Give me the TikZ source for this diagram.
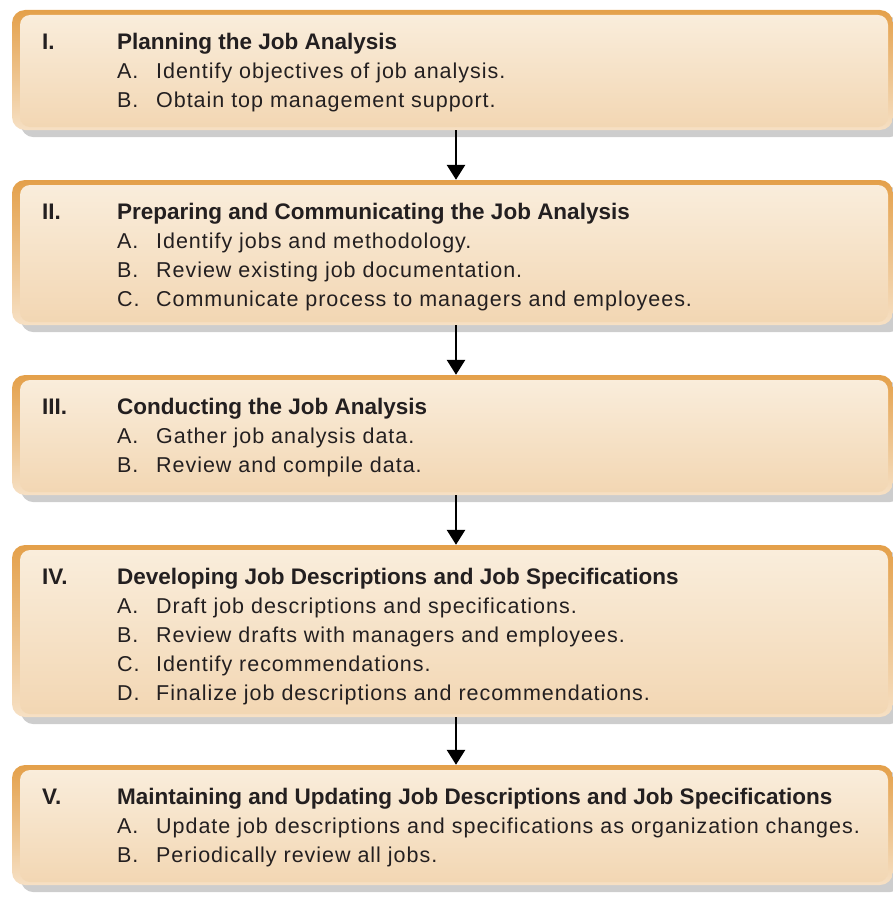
\documentclass[tikz,border=0pt]{standalone}
\usepackage{fontspec}
\setmainfont{Liberation Sans}
\newfontfamily\itemfont{Liberation Sans}[LetterSpace=4.5]
\usepackage{tikz}
\usetikzlibrary{arrows.meta,positioning,calc,backgrounds}
\definecolor{jaorange}{HTML}{E4A04A}
\definecolor{jalight}{HTML}{F6E0C4}
\definecolor{jatop}{HTML}{FAEEDD}
\definecolor{jabot}{HTML}{F2D6B2}
\definecolor{jashade}{HTML}{CDCDCD}
\definecolor{jaink}{HTML}{231F20}
\tikzset{
  stage/.style={rounded corners=13pt, minimum width=881pt, inner sep=0pt,
    top color=jaorange, bottom color=jalight,
    path picture={\shade[rounded corners=10pt, top color=jatop, bottom color=jabot]
      ([shift={(8pt,-5pt)}]path picture bounding box.north west) rectangle
      ([shift={(-5pt,3pt)}]path picture bounding box.south east);}},
  shadowbox/.style={fill=jashade, rounded corners=13pt},
  num/.style={anchor=base west, inner sep=0pt, text=jaink, font=\fontsize{22.5}{27}\selectfont\bfseries},
  head/.style={num},
  ltr/.style={anchor=base west, inner sep=0pt, text=jaink, font=\fontsize{21.5}{25}\selectfont\itemfont},
  itm/.style={ltr},
  arr/.style={-{Triangle[length=15pt,width=18pt]}, line width=2.8pt, color=black},
}

\begin{document}
\begin{tikzpicture}[x=1pt,y=-1pt]
  \useasboundingbox (0,0) rectangle (893,907);
  \foreach \n/\ya/\yb/\num/\ti in {
    1/10/130/I./{Planning the Job Analysis},
    2/180/325/II./{Preparing and Communicating the Job Analysis},
    3/375/495/III./{Conducting the Job Analysis},
    4/545/717/IV./{Developing Job Descriptions and Job Specifications},
    5/765/885/V./{Maintaining and Updating Job Descriptions and Job Specifications}}
  {
    \node[stage, minimum height=(\yb-\ya)*1pt] (b\n) at (452.5,{(\ya+\yb)/2}) {};
    \node[num] (n\n) at (42,\ya+39) {\num};
    \node[head] (h\n) at (117,\ya+39) {\ti};
  }
  \foreach \n/\k/\l/\txt in {
    1/1/A./{Identify objectives of job analysis.},
    1/2/B./{Obtain top management support.},
    2/1/A./{Identify jobs and methodology.},
    2/2/B./{Review existing job documentation.},
    2/3/C./{Communicate process to managers and employees.},
    3/1/A./{Gather job analysis data.},
    3/2/B./{Review and compile data.},
    4/1/A./{Draft job descriptions and specifications.},
    4/2/B./{Review drafts with managers and employees.},
    4/3/C./{Identify recommendations.},
    4/4/D./{Finalize job descriptions and recommendations.},
    5/1/A./{Update job descriptions and specifications as organization changes.},
    5/2/B./{Periodically review all jobs.}}
  {
    \node[ltr] (l\n\k) at ([yshift=-29pt*\k]h\n.base west) {\l};
    \node[itm] (t\n\k) at ([xshift=39pt]l\n\k.base west) {\txt};
  }
  % shadows under the boxes
  \begin{scope}[on background layer]
    \foreach \n in {1,...,5}
      \fill[shadowbox] ([shift={(9pt,-7pt)}]b\n.south west) rectangle ([shift={(9pt,-7pt)}]b\n.north east);
  \end{scope}
  \foreach \a/\c in {1/2,2/3,3/4,4/5} \draw[arr] ([xshift=3.5pt]b\a.south) -- ([xshift=3.5pt]b\c.north);
\end{tikzpicture}
\end{document}
